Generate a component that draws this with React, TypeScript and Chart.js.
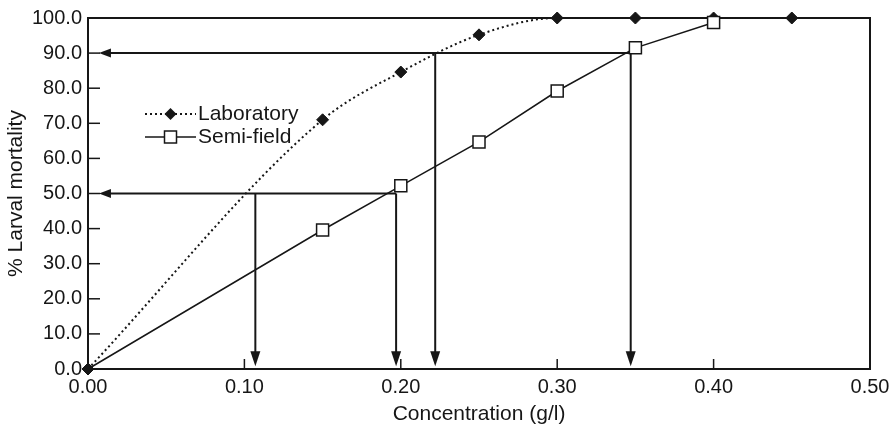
import React, { useEffect, useRef } from "react";
import { Chart, registerables } from "chart.js";

Chart.register(...registerables);

// ---- Data ----
const labX = [0.0, 0.15, 0.2, 0.25, 0.3, 0.35, 0.4, 0.45];
const labY = [0.0, 71.0, 84.6, 95.2, 100.0, 100.0, 100.0, 100.0];

const semiX = [0.0, 0.15, 0.2, 0.25, 0.3, 0.35, 0.4];
const semiY = [0.0, 39.6, 52.2, 64.7, 79.2, 91.5, 98.7];

// horizontal read-off arrows (pointing to the y axis)
const hArrowY = [90, 50];
const hArrowFrom = [0.347, 0.197];
const hArrowTo = [0.007, 0.007];

// vertical read-off arrows (pointing to the x axis)
const vArrowX = [0.107, 0.197, 0.222, 0.347];
const vArrowFrom = [50, 50, 90, 90];
const vArrowTo = [0.8, 0.8, 0.8, 0.8];

const xTickValues = [0.1, 0.2, 0.3, 0.4];
const yTickValues = [10, 20, 30, 40, 50, 60, 70, 80, 90];

const INK = "#161616";
const FONT = "'Liberation Sans', Arial, Helvetica, sans-serif";

const decorPlugin = {
  id: "decor",
  beforeDatasetsDraw(chart: any) {
    const { ctx, chartArea: ca, scales } = chart;
    const xs = scales.x;
    const ys = scales.y;
    ctx.save();
    ctx.strokeStyle = INK;
    ctx.fillStyle = INK;
    // frame
    ctx.lineWidth = 2;
    ctx.strokeRect(ca.left, ca.top, ca.right - ca.left, ca.bottom - ca.top);
    // inward ticks
    ctx.lineWidth = 1.5;
    yTickValues.forEach((v) => {
      const py = ys.getPixelForValue(v);
      ctx.beginPath();
      ctx.moveTo(ca.left, py);
      ctx.lineTo(ca.left + 12, py);
      ctx.stroke();
    });
    xTickValues.forEach((v) => {
      const px = xs.getPixelForValue(v);
      ctx.beginPath();
      ctx.moveTo(px, ca.bottom);
      ctx.lineTo(px, ca.bottom - 10);
      ctx.stroke();
    });
    // horizontal arrows
    ctx.lineWidth = 2;
    hArrowY.forEach((yv, i) => {
      const py = ys.getPixelForValue(yv);
      const p0 = xs.getPixelForValue(hArrowFrom[i]);
      const p1 = xs.getPixelForValue(hArrowTo[i]);
      ctx.beginPath();
      ctx.moveTo(p0, py);
      ctx.lineTo(p1 + 8, py);
      ctx.stroke();
      ctx.beginPath();
      ctx.moveTo(p1, py);
      ctx.lineTo(p1 + 12, py - 4.5);
      ctx.lineTo(p1 + 12, py + 4.5);
      ctx.closePath();
      ctx.fill();
    });
    // vertical arrows
    vArrowX.forEach((xv, i) => {
      const px = xs.getPixelForValue(xv);
      const p0 = ys.getPixelForValue(vArrowFrom[i]);
      const p1 = ys.getPixelForValue(vArrowTo[i]);
      ctx.beginPath();
      ctx.moveTo(px, p0);
      ctx.lineTo(px, p1 - 10);
      ctx.stroke();
      ctx.beginPath();
      ctx.moveTo(px, p1);
      ctx.lineTo(px - 5, p1 - 15);
      ctx.lineTo(px + 5, p1 - 15);
      ctx.closePath();
      ctx.fill();
    });
    ctx.restore();
  },
  afterDatasetsDraw(chart: any) {
    const { ctx, chartArea: ca } = chart;
    const lx0 = ca.left + 57;
    const lx1 = ca.left + 108;
    const mx = (lx0 + lx1) / 2;
    const tx = ca.left + 110;
    const y1 = ca.top + 96;
    const y2 = ca.top + 119;
    ctx.save();
    ctx.strokeStyle = INK;
    ctx.fillStyle = INK;
    // Laboratory
    ctx.lineWidth = 2;
    ctx.setLineDash([2, 3]);
    ctx.beginPath();
    ctx.moveTo(lx0, y1);
    ctx.lineTo(lx1, y1);
    ctx.stroke();
    ctx.setLineDash([]);
    ctx.beginPath();
    ctx.moveTo(mx - 6, y1);
    ctx.lineTo(mx, y1 - 6);
    ctx.lineTo(mx + 6, y1);
    ctx.lineTo(mx, y1 + 6);
    ctx.closePath();
    ctx.fill();
    // Semi-field
    ctx.lineWidth = 1.5;
    ctx.beginPath();
    ctx.moveTo(lx0, y2);
    ctx.lineTo(lx1, y2);
    ctx.stroke();
    ctx.fillStyle = "#fff";
    ctx.fillRect(mx - 6, y2 - 6, 12, 12);
    ctx.strokeRect(mx - 6, y2 - 6, 12, 12);
    ctx.fillStyle = INK;
    ctx.font = `21px ${FONT}`;
    ctx.textBaseline = "middle";
    ctx.textAlign = "left";
    ctx.fillText("Laboratory", tx, y1);
    ctx.fillText("Semi-field", tx, y2);
    ctx.restore();
  },
};

export default function App() {
  const ref = useRef<HTMLCanvasElement | null>(null);

  useEffect(() => {
    document.body.style.margin = "0";
    const canvas = ref.current;
    if (!canvas) return;
    const semiRadius = semiX.map((_, i) => (i === 0 ? 0 : 8.5));
    const chart = new Chart(canvas, {
      type: "line",
      data: {
        datasets: [
          {
            label: "Semi-field",
            data: semiX.map((x, i) => ({ x, y: semiY[i] })),
            borderColor: INK,
            borderWidth: 1.5,
            backgroundColor: "#ffffff",
            pointStyle: "rect",
            pointRadius: semiRadius,
            pointBorderWidth: 1.5,
            pointBorderColor: INK,
            pointBackgroundColor: "#ffffff",
            tension: 0,
            clip: false,
          } as any,
          {
            label: "Laboratory",
            data: labX.map((x, i) => ({ x, y: labY[i] })),
            borderColor: INK,
            borderWidth: 2,
            borderDash: [2, 3],
            backgroundColor: INK,
            pointStyle: "rectRot",
            pointRadius: 6,
            pointBorderWidth: 1,
            pointBorderColor: INK,
            pointBackgroundColor: INK,
            cubicInterpolationMode: "monotone",
            clip: false,
          } as any,
        ],
      },
      options: {
        responsive: false,
        animation: false,
        layout: { padding: { top: 18, right: 21, left: 0, bottom: 0 } },
        plugins: {
          legend: { display: false },
          tooltip: { enabled: false },
        },
        scales: {
          x: {
            type: "linear",
            min: 0,
            max: 0.5,
            grid: { display: false, drawTicks: false },
            border: { display: false },
            ticks: {
              stepSize: 0.1,
              padding: 6,
              color: INK,
              font: { family: FONT, size: 20 },
              maxRotation: 0,
              callback: (v: any) => Number(v).toFixed(2),
            },
            title: {
              display: true,
              text: "Concentration (g/l)",
              color: INK,
              font: { family: FONT, size: 21 },
              padding: { top: 0, bottom: 1 },
            },
            afterFit: (s: any) => {
              s.height = 59;
              s.paddingLeft = 0;
              s.paddingRight = 0;
            },
          },
          y: {
            type: "linear",
            min: 0,
            max: 100,
            grid: { display: false, drawTicks: false },
            border: { display: false },
            ticks: {
              stepSize: 10,
              padding: 6,
              color: INK,
              font: { family: FONT, size: 20 },
              callback: (v: any) => Number(v).toFixed(1),
            },
            title: {
              display: true,
              text: "% Larval mortality",
              color: INK,
              font: { family: FONT, size: 21 },
              padding: { top: 4, bottom: 0 },
            },
            afterFit: (s: any) => {
              s.width = 88;
              s.paddingTop = 0;
              s.paddingBottom = 0;
            },
          },
        },
      },
      plugins: [decorPlugin],
    });
    return () => chart.destroy();
  }, []);

  return (
    <div style={{ width: 891, height: 428, background: "#fff" }}>
      <canvas ref={ref} width={891} height={428} style={{ display: "block" }} />
    </div>
  );
}
